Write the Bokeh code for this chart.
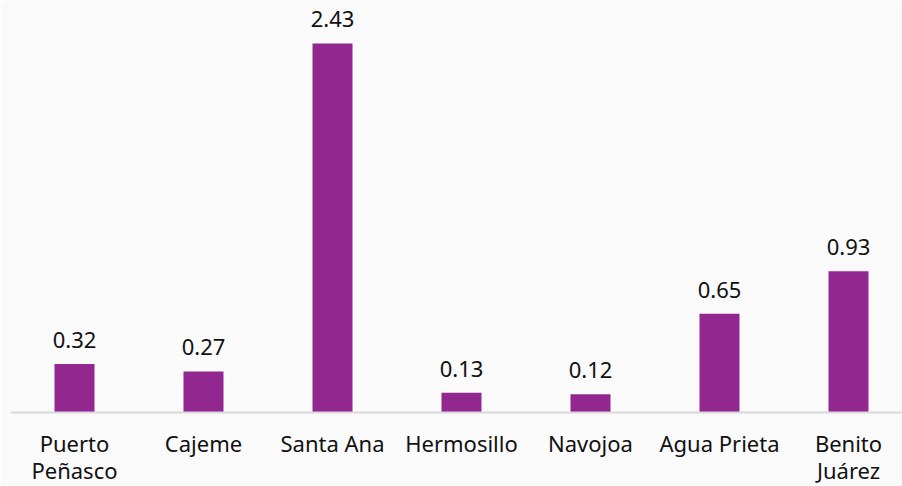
from bokeh.plotting import figure
from bokeh.models import ColumnDataSource, Range1d, LabelSet, Span
from bokeh.core.properties import value
from bokeh.embed import file_html
from bokeh.resources import INLINE

cities = ["Puerto\nPeñasco", "Cajeme", "Santa Ana", "Hermosillo", "Navojoa", "Agua Prieta", "Benito\nJuárez"]
values = [0.32, 0.27, 2.43, 0.13, 0.12, 0.65, 0.93]

value_labels = [f"{v:.2f}" for v in values]
positions = list(range(len(cities)))
line1 = [c.split("\n")[0] for c in cities]
line2 = [c.split("\n")[1] if "\n" in c else "" for c in cities]

FONT = "Noto Sans"
BG = "#FAFAFA"
TXT = "#111111"

source = ColumnDataSource(data=dict(x=positions, top=values, label=value_labels,
                                    base=[0] * len(values), l1=line1, l2=line2))

p = figure(width=902, height=486, output_backend="svg", toolbar_location=None,
           x_range=Range1d(-0.4961, 6.4186), y_range=Range1d(-0.4872, 2.7123),
           min_border_left=10, min_border_right=0, min_border_top=0, min_border_bottom=0)
p.background_fill_color = BG
p.border_fill_color = BG
p.outline_line_color = None
p.xgrid.grid_line_color = None
p.ygrid.grid_line_color = None
p.xaxis.visible = False
p.yaxis.visible = False

p.vbar(x="x", top="top", width=0.31, source=source, fill_color="#92278F", line_color=None)

p.add_layout(Span(location=0, dimension="width", line_color="#D9D9D9", line_width=2))

p.add_layout(LabelSet(x="x", y="top", text="label", source=source, text_align="center",
                      text_baseline="alphabetic", y_offset=16, text_font=value(FONT),
                      text_font_size="22px", text_color=TXT))
p.add_layout(LabelSet(x="x", y="base", text="l1", source=source, text_align="center",
                      text_baseline="alphabetic", y_offset=-40, text_font=value(FONT),
                      text_font_size="22px", text_color=TXT))
p.add_layout(LabelSet(x="x", y="base", text="l2", source=source, text_align="center",
                      text_baseline="alphabetic", y_offset=-67, text_font=value(FONT),
                      text_font_size="22px", text_color=TXT))

open("out.html", "w").write(file_html(p, INLINE))
